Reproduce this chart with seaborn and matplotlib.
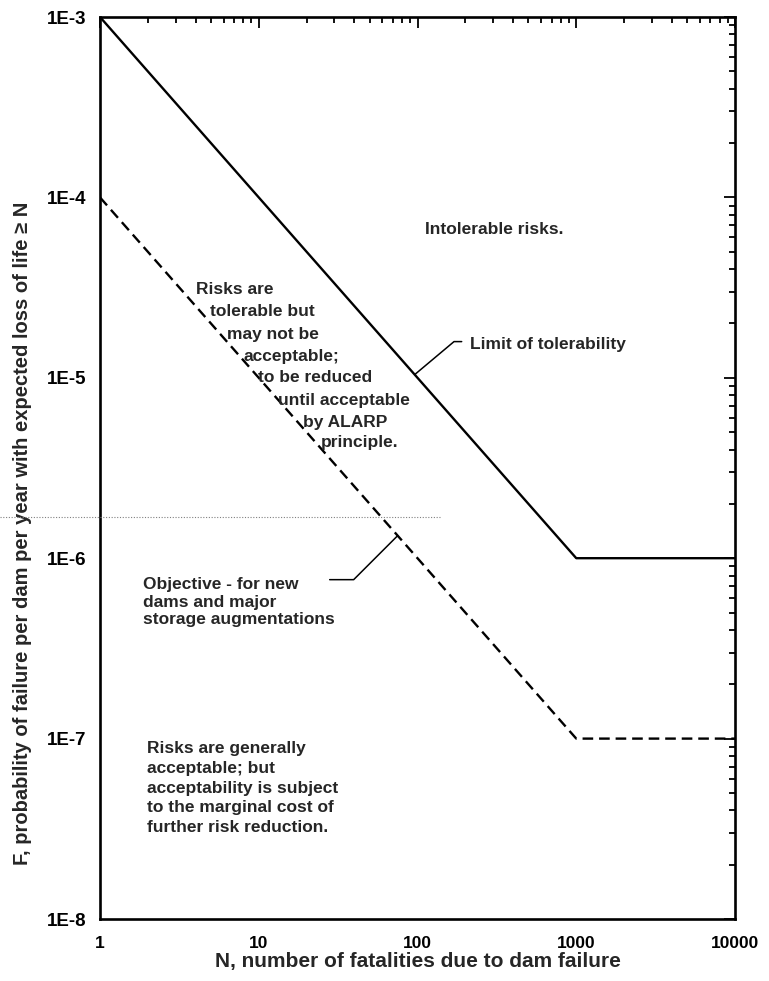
import numpy as np
import matplotlib.pyplot as plt
import seaborn as sns
from matplotlib.lines import Line2D
from matplotlib.ticker import LogLocator, NullFormatter

# F-N criteria for dams
n_fatalities = [1, 1000, 10000]
limit_tolerability = [1e-3, 1e-6, 1e-6]
objective_new_dams = [1e-4, 1e-7, 1e-7]

x_ticks = [1, 10, 100, 1000, 10000]
x_tick_labels = ["1", "10", "100", "1000", "10000"]
y_ticks = [1e-8, 1e-7, 1e-6, 1e-5, 1e-4, 1e-3]
y_tick_labels = ["1E-8", "1E-7", "1E-6", "1E-5", "1E-4", "1E-3"]

alarp_lines = ["Risks are", "tolerable but", "may not be", "acceptable;",
               "to be reduced", "until acceptable", "by ALARP", "principle."]
objective_text = "Objective - for new\ndams and major\nstorage augmentations"
acceptable_text = ("Risks are generally\nacceptable; but\nacceptability is subject\n"
                   "to the marginal cost of\nfurther risk reduction.")

sns.set_style("white")
plt.rcParams["font.family"] = ["Liberation Sans", "DejaVu Sans"]
plt.rcParams["font.weight"] = "bold"
plt.rcParams["axes.labelweight"] = "bold"

W, H = 769, 981
fig = plt.figure(figsize=(W / 100, H / 100), dpi=100)
ax = fig.add_axes([100 / W, 1 - 919 / H, 635 / W, 902 / H])


def px(x, y):
    return x / W, 1 - y / H


sns.lineplot(x=n_fatalities, y=limit_tolerability, ax=ax, color="black", linewidth=1.7)
sns.lineplot(x=n_fatalities, y=objective_new_dams, ax=ax, color="black",
             linewidth=1.7, linestyle="--")
ax.lines[-1].set_dashes([4.5, 2.5])

ax.set_xscale("log")
ax.set_yscale("log")
ax.set_xlim(1, 10000)
ax.set_ylim(1e-8, 1e-3)

ax.set_xticks(x_ticks, x_tick_labels)
ax.set_yticks(y_ticks, y_tick_labels)
for axis in (ax.xaxis, ax.yaxis):
    axis.set_minor_locator(LogLocator(base=10, subs=np.arange(2, 10), numticks=20))
    axis.set_minor_formatter(NullFormatter())
ax.tick_params(which="both", direction="in", top=True, right=True, width=1.3, colors="black")
ax.tick_params(which="major", length=8)
ax.tick_params(which="minor", length=4)
ax.tick_params(axis="x", which="major", pad=12, labelsize=12.5)
ax.tick_params(axis="y", which="major", pad=10, labelsize=13.5)
for sp in ax.spines.values():
    sp.set_color("black")
    sp.set_linewidth(1.9)

ax.set_xlabel("N, number of fatalities due to dam failure", fontsize=15, labelpad=1)
ax.set_ylabel("F, probability of failure per dam per year with expected loss of life \u2265 N",
              fontsize=14.5)
ax.yaxis.set_label_coords((32 - 100) / 635, (919 - 533) / 902)

# region texts
fs = 12.5
fig.text(*px(425, 230), "Intolerable risks.", va="center", fontsize=fs)
fig.text(*px(470, 345), "Limit of tolerability", va="center", fontsize=fs)
alarp_pos = [(196, 289), (210, 312), (227, 334), (243, 357),
             (258, 377), (278, 400), (303, 422), (321, 443)]
for txt, (x, y) in zip(alarp_lines, alarp_pos):
    fig.text(*px(x, y), txt, va="center", fontsize=fs)
fig.text(*px(143, 602), objective_text, va="center", fontsize=fs, linespacing=1.2)
fig.text(*px(147, 788), acceptable_text, va="center", fontsize=fs, linespacing=1.4)

# leader lines
log_n = np.log10(n_fatalities)
lim_n = 96
lim_f = 10 ** np.interp(np.log10(lim_n), log_n, np.log10(limit_tolerability))
ax.annotate("", xy=(lim_n, lim_f), xytext=(47, 33), textcoords="offset pixels",
            arrowprops=dict(arrowstyle="-", color="black", lw=1.1, shrinkA=0, shrinkB=0,
                            connectionstyle="angle,angleA=0,angleB=40,rad=0"))
obj_n = 75
obj_f = 10 ** np.interp(np.log10(obj_n), log_n, np.log10(objective_new_dams))
ax.annotate("", xy=(obj_n, obj_f), xytext=(-68, -44), textcoords="offset pixels",
            arrowprops=dict(arrowstyle="-", color="black", lw=1.1, shrinkA=0, shrinkB=0,
                            connectionstyle="angle,angleA=0,angleB=45,rad=0"))

# faint fold line from the scanned page
fig.add_artist(Line2D([0, 440 / W], [1 - 517 / H] * 2, transform=fig.transFigure,
                      color="0.5", lw=0.8, linestyle=(0, (1, 1.5))))

fig.savefig("out.png", dpi=100)
